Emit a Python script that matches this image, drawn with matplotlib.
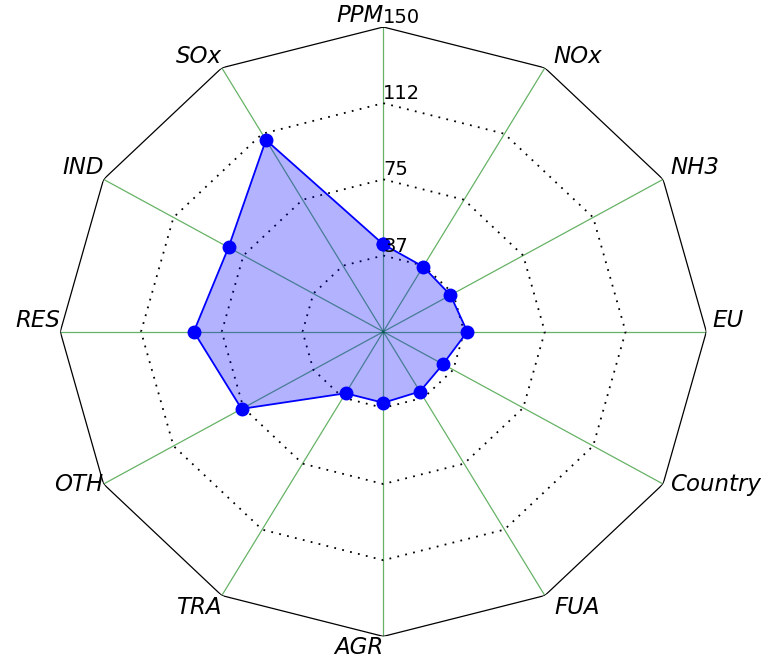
import numpy as np
import matplotlib
matplotlib.use("Agg")
import matplotlib.pyplot as plt

# axes, clockwise from the top
labels = ["PPM", "NOx", "NH3", "EU", "Country", "FUA",
          "AGR", "TRA", "OTH", "RES", "IND", "SOx"]
values = [43, 37, 36, 39, 32, 34, 35, 35, 76, 88, 83, 109]

ring_values = [37.5, 75, 112.5, 150]
ring_labels = ["37", "75", "112", "150"]
r_max = 150

# label alignment per axis (ha, va, x offset in points)
label_align = {
    "PPM": ("right", "bottom", 0), "NOx": ("left", "bottom", 6.5),
    "NH3": ("left", "bottom", 5.5), "EU": ("left", "bottom", 4),
    "Country": ("left", "center", 5), "FUA": ("left", "top", 7),
    "AGR": ("right", "top", 0), "TRA": ("right", "top", 0),
    "OTH": ("right", "center", 0), "RES": ("right", "bottom", 0),
    "IND": ("right", "bottom", 0), "SOx": ("right", "bottom", 0),
}

n = len(labels)
theta = np.linspace(0, 2 * np.pi, n, endpoint=False)
theta_closed = np.append(theta, theta[0])
vals_closed = np.append(values, values[0])

fig = plt.figure(figsize=(7.61, 6.62), dpi=100)
ax = fig.add_axes([0.0792, 0.0387, 0.849, 0.9205], projection="polar")
ax.set_aspect("auto")
ax.set_theta_offset(np.pi / 2)
ax.set_theta_direction(-1)
ax.set_ylim(0, r_max)
ax.grid(False)
ax.spines["polar"].set_visible(False)
ax.set_xticks([])
ax.set_yticks([])
ax.patch.set_visible(False)

# spokes
for t in theta:
    ax.plot([t, t], [0, r_max], color="green", lw=0.9, alpha=0.6, zorder=1)

# polygon rings
for rv, rl in zip(ring_values, ring_labels):
    if rv < r_max:
        ax.plot(theta_closed, [rv] * (n + 1), color="black", lw=1.3,
                linestyle=(0, (1, 3.5)), zorder=1)
    else:
        ax.plot(theta_closed, [rv] * (n + 1), color="black", lw=0.9, zorder=1)
    ax.text(0, rv, rl, ha="left", va="bottom", fontsize=14, zorder=4)

# data
ax.fill(theta_closed, vals_closed, color="blue", alpha=0.3, lw=0, zorder=2)
ax.plot(theta_closed, vals_closed, color="blue", lw=1.3, marker="o",
        markersize=9, zorder=3)

for t, lab in zip(theta, labels):
    ha, va, dx = label_align[lab]
    ax.annotate(lab, xy=(t, r_max), xytext=(dx, 0), textcoords="offset points",
                ha=ha, va=va, fontsize=16.5, fontstyle="italic",
                annotation_clip=False)

fig.savefig("out.png", dpi=100)
